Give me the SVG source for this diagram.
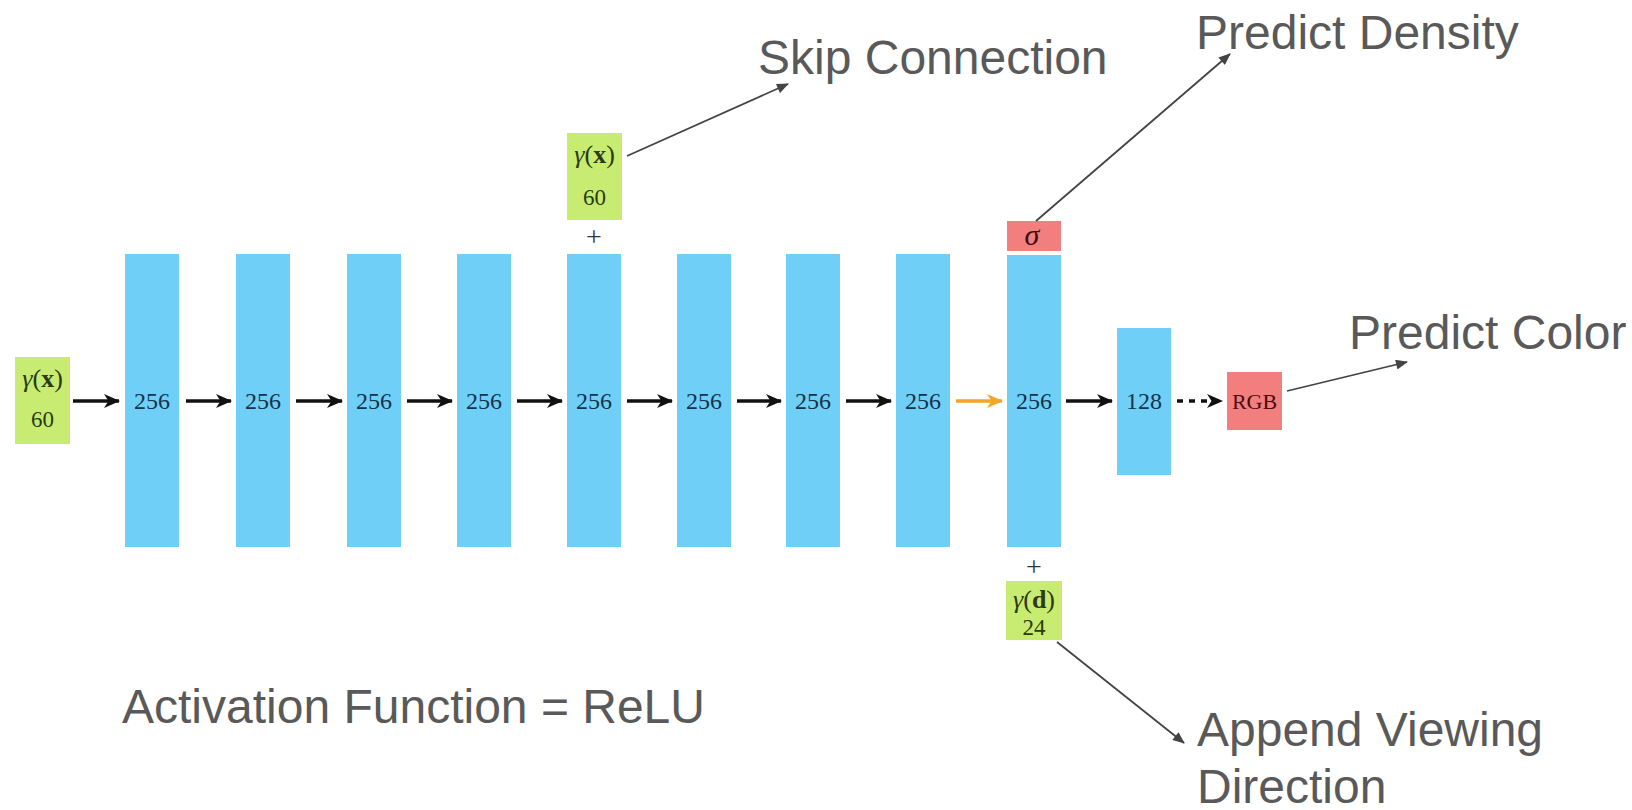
<svg xmlns="http://www.w3.org/2000/svg" width="1632" height="810" viewBox="0 0 1632 810">
  <style>
    .layer { fill: #6fcff7; }
    .enc { fill: #c8ec72; }
    .out { fill: #f37e7e; }
    .num { font-family: "Liberation Serif", "DejaVu Serif", serif; font-size: 24px; fill: #14334a; text-anchor: middle; }
    .encT { font-family: "Liberation Serif", "DejaVu Serif", serif; font-size: 26px; fill: #2b3a10; text-anchor: middle; }
    .encN { font-family: "Liberation Serif", "DejaVu Serif", serif; font-size: 23px; fill: #2b3a10; text-anchor: middle; }
    .gam { font-style: italic; }
    .plus { font-family: "Liberation Serif", "DejaVu Serif", serif; font-size: 28px; fill: #333; text-anchor: middle; }
    .label { font-family: "Liberation Sans", Arial, sans-serif; font-size: 48px; fill: #595959; }
    .flow { stroke: #111; stroke-width: 3.4; fill: none; marker-end: url(#head); }
    .flowOrange { stroke: #f4a428; stroke-width: 3.4; fill: none; marker-end: url(#headOrange); }
    .flowDash { stroke: #111; stroke-width: 3.4; fill: none; stroke-dasharray: 6 6; marker-end: url(#head); }
    .note { stroke: #444; stroke-width: 1.8; fill: none; marker-end: url(#pointer); }
  </style>
  <defs>
    <marker id="head" viewBox="0 0 16 14" refX="15" refY="7" markerWidth="16" markerHeight="14" markerUnits="userSpaceOnUse" orient="auto">
      <path d="M0,0 L16,7 L0,14 L4.5,7 z" fill="#111"/>
    </marker>
    <marker id="headOrange" viewBox="0 0 16 14" refX="15" refY="7" markerWidth="16" markerHeight="14" markerUnits="userSpaceOnUse" orient="auto">
      <path d="M0,0 L16,7 L0,14 L4.5,7 z" fill="#f4a428"/>
    </marker>
    <marker id="pointer" viewBox="0 0 12 10" refX="11" refY="5" markerWidth="13" markerHeight="10" markerUnits="userSpaceOnUse" orient="auto">
      <path d="M0,0 L12,5 L0,10 z" fill="#444"/>
    </marker>
  </defs>

  <rect width="1632" height="810" fill="#ffffff"/>

  <!-- input encoding -->
  <g id="input-x">
    <rect class="enc" x="15" y="357" width="55" height="87"/>
    <text class="encT" x="42.5" y="387"><tspan class="gam">γ</tspan>(<tspan font-weight="bold">x</tspan>)</text>
    <text class="encN" x="42.5" y="427">60</text>
  </g>

  <!-- hidden layers -->
  <g id="layer1"><rect class="layer" x="125" y="254" width="54" height="293"/><text class="num" x="152" y="409">256</text></g>
  <g id="layer2"><rect class="layer" x="236" y="254" width="54" height="293"/><text class="num" x="263" y="409">256</text></g>
  <g id="layer3"><rect class="layer" x="347" y="254" width="54" height="293"/><text class="num" x="374" y="409">256</text></g>
  <g id="layer4"><rect class="layer" x="457" y="254" width="54" height="293"/><text class="num" x="484" y="409">256</text></g>
  <g id="layer5"><rect class="layer" x="567" y="254" width="54" height="293"/><text class="num" x="594" y="409">256</text></g>
  <g id="layer6"><rect class="layer" x="677" y="254" width="54" height="293"/><text class="num" x="704" y="409">256</text></g>
  <g id="layer7"><rect class="layer" x="786" y="254" width="54" height="293"/><text class="num" x="813" y="409">256</text></g>
  <g id="layer8"><rect class="layer" x="896" y="254" width="54" height="293"/><text class="num" x="923" y="409">256</text></g>
  <g id="layer9"><rect class="layer" x="1007" y="255" width="54" height="292"/><text class="num" x="1034" y="409">256</text></g>
  <g id="layer10"><rect class="layer" x="1117" y="328" width="54" height="147"/><text class="num" x="1144" y="409">128</text></g>

  <!-- skip input -->
  <g id="skip-x">
    <rect class="enc" x="567" y="133" width="55" height="87"/>
    <text class="encT" x="594.5" y="163"><tspan class="gam">γ</tspan>(<tspan font-weight="bold">x</tspan>)</text>
    <text class="encN" x="594.5" y="205">60</text>
    <text class="plus" x="594" y="246">+</text>
  </g>

  <!-- density head -->
  <g id="sigma">
    <rect class="out" x="1007" y="221" width="54" height="30"/>
    <text x="1032" y="245" font-family="'Liberation Serif', 'DejaVu Serif', serif" font-size="30" font-style="italic" fill="#3b0c0c" text-anchor="middle">σ</text>
  </g>

  <!-- view direction input -->
  <g id="dir-d">
    <text class="plus" x="1034" y="576">+</text>
    <rect class="enc" x="1006" y="581" width="56" height="59"/>
    <text class="encT" x="1034" y="608"><tspan class="gam">γ</tspan>(<tspan font-weight="bold">d</tspan>)</text>
    <text class="encN" x="1034" y="635">24</text>
  </g>

  <!-- colour head -->
  <g id="rgb">
    <rect class="out" x="1227" y="372" width="55" height="58"/>
    <text x="1254.5" y="409" font-family="'Liberation Serif', 'DejaVu Serif', serif" font-size="22" fill="#4a0c0c" text-anchor="middle">RGB</text>
  </g>

  <!-- connectors -->
  <g id="connectors">
    <line class="flow" x1="73" y1="401" x2="119" y2="401"/>
    <line class="flow" x1="186" y1="401" x2="231" y2="401"/>
    <line class="flow" x1="296" y1="401" x2="342" y2="401"/>
    <line class="flow" x1="407" y1="401" x2="452" y2="401"/>
    <line class="flow" x1="517" y1="401" x2="562" y2="401"/>
    <line class="flow" x1="627" y1="401" x2="672" y2="401"/>
    <line class="flow" x1="737" y1="401" x2="781" y2="401"/>
    <line class="flow" x1="846" y1="401" x2="891" y2="401"/>
    <line class="flowOrange" x1="956" y1="401" x2="1002" y2="401"/>
    <line class="flow" x1="1066" y1="401" x2="1112" y2="401"/>
    <line class="flowDash" x1="1177" y1="401" x2="1222" y2="401"/>

    <line class="note" x1="627" y1="156" x2="788" y2="84"/>
    <line class="note" x1="1036" y1="221" x2="1230" y2="54"/>
    <line class="note" x1="1287" y1="391" x2="1407" y2="362"/>
    <line class="note" x1="1057" y1="642" x2="1184" y2="743"/>
  </g>

  <!-- annotations -->
  <g id="labels">
    <text class="label" x="758" y="74">Skip Connection</text>
    <text class="label" x="1196" y="49">Predict Density</text>
    <text class="label" x="1349" y="349">Predict Color</text>
    <text class="label" x="122" y="723">Activation Function = ReLU</text>
    <text class="label" x="1197" y="746">Append Viewing</text>
    <text class="label" x="1197" y="803">Direction</text>
  </g>
</svg>
